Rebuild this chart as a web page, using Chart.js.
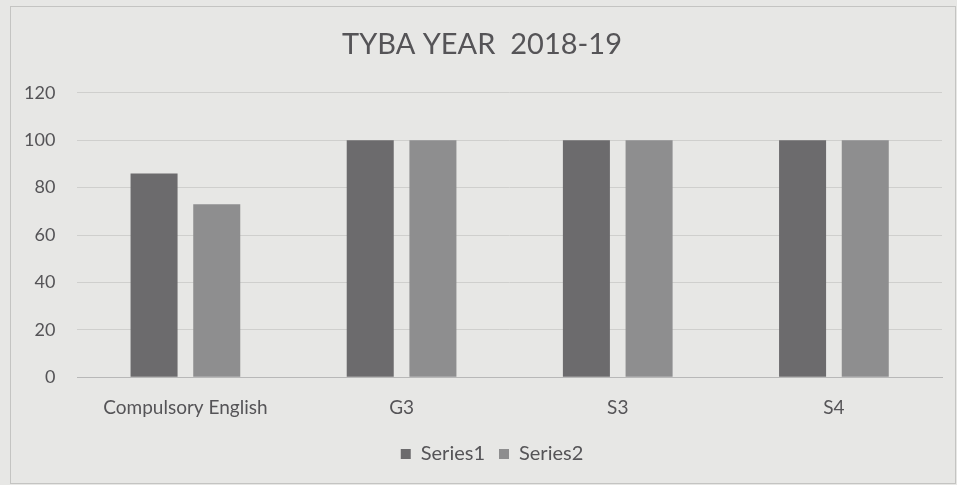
<!DOCTYPE html>
<html><head><meta charset="utf-8">
<script src="https://cdn.jsdelivr.net/npm/chart.js@4/dist/chart.umd.min.js"></script>
<style>html,body{margin:0;padding:0;background:#e7e7e5;}#wrap{width:957px;height:485px;position:relative;}</style>
</head><body><div id="wrap"><canvas id="c" width="957" height="485"></canvas></div>
<script>
const categories = ["Compulsory English", "G3", "S3", "S4"];
const series1 = [86, 100, 100, 100];
const series2 = [73, 100, 100, 100];
const yTicks = [0, 20, 40, 60, 80, 100, 120];
const titleText = "TYBA YEAR  2018-19";

const bgPlugin = {
  id: 'bg',
  afterLayout(chart) {
    chart.legend.left += 20; chart.legend.right += 20;
    chart.titleBlock.left += 10; chart.titleBlock.right += 10;
  },
  beforeDraw(chart) {
    const ctx = chart.ctx;
    ctx.save();
    ctx.fillStyle = '#e7e7e5';
    ctx.fillRect(0, 0, chart.width, chart.height);
    ctx.strokeStyle = '#c4c4c2';
    ctx.lineWidth = 1;
    ctx.strokeRect(10.5, 6.5, chart.width - 12, chart.height - 8);
    ctx.restore();
  }
};

new Chart(document.getElementById('c'), {
  type: 'bar',
  data: {
    labels: categories,
    datasets: [
      { label: 'Series1', data: series1, backgroundColor: '#6c6b6d', categoryPercentage: 0.58, barPercentage: 0.75 },
      { label: 'Series2', data: series2, backgroundColor: '#8e8e8f', categoryPercentage: 0.58, barPercentage: 0.75 }
    ]
  },
  options: {
    responsive: false,
    animation: false,
    layout: { padding: { left: 2, right: 15, top: 20, bottom: 11 } },
    plugins: {
      title: { display: true, text: titleText, color: '#555457', font: { family: 'Lato', size: 29, weight: 'normal' }, padding: { top: 7, bottom: 31 } },
      legend: { position: 'bottom', labels: { color: '#555457', font: { family: 'Lato', size: 20 }, boxWidth: 10, boxHeight: 10, padding: 14 } },
      tooltip: { enabled: false }
    },
    scales: {
      x: {
        grid: { display: false },
        border: { color: '#b8b8b8' },
        ticks: { color: '#555457', font: { family: 'Lato', size: 19 }, padding: 11 },
        afterFit(axis) { axis.paddingLeft = 0; axis.paddingRight = 0; }
      },
      y: {
        min: 0, max: 120,
        afterBuildTicks(axis) { axis.ticks = yTicks.map(v => ({ value: v })); },
        grid: { color: '#cfcfcd', drawTicks: false },
        border: { display: false },
        ticks: { color: '#555457', font: { family: 'Lato', size: 18 }, padding: 22 }
      }
    }
  },
  plugins: [bgPlugin]
});
</script></body></html>
